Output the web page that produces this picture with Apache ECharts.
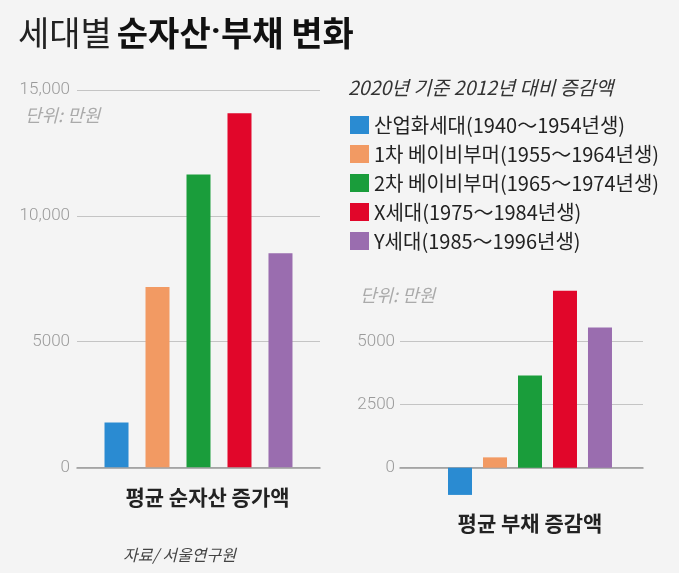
<!DOCTYPE html>
<html>
<head>
<meta charset="utf-8">
<script src="https://cdn.jsdelivr.net/npm/echarts@6/dist/echarts.min.js"></script>
<style>
html,body{margin:0;padding:0;background:#f4f4f4;}
#chart{width:679px;height:573px;}
</style>
</head>
<body>
<div id="chart"></div>
<script>
// ---- data ----
const generations = [
  '산업화세대(1940～1954년생)',
  '1차 베이비부머(1955～1964년생)',
  '2차 베이비부머(1965～1974년생)',
  'X세대(1975～1984년생)',
  'Y세대(1985～1996년생)'
];
const netAssetIncrease = [1780, 7170, 11640, 14080, 8510];
const debtChange = [-1080, 410, 3660, 7020, 5560];
const leftCategory = ['평균 순자산 증가액'];
const rightCategory = ['평균 부채 증감액'];
const leftTicks = [0, 5000, 10000, 15000];
const leftTickLabels = ['0', '5000', '10,000', '15,000'];
const rightTicks = [0, 2500, 5000];
const rightTickLabels = ['0', '2500', '5000'];
const colors = ['#2a8bd2', '#f29a63', '#1a9d3b', '#e1062a', '#9a6daf'];

const KR = '"Noto Sans CJK KR", "Noto Sans", sans-serif';
const NUM = 'Roboto, "Noto Sans", sans-serif';

function tickFmt(ticks, labels) {
  return function (v) {
    const i = ticks.indexOf(v);
    return i >= 0 ? labels[i] : '';
  };
}

const series = [];
generations.forEach(function (g, i) {
  series.push({
    type: 'bar', name: g, xAxisIndex: 0, yAxisIndex: 0,
    data: [netAssetIncrease[i]], barWidth: 24, barGap: '70.8%',
    itemStyle: { color: colors[i] }, silent: true
  });
});
generations.forEach(function (g, i) {
  series.push({
    type: 'bar', name: g, xAxisIndex: 2, yAxisIndex: 2,
    data: [debtChange[i]], barWidth: 24, barGap: '45.8%',
    itemStyle: { color: colors[i] }, silent: true
  });
});

const chart = echarts.init(document.getElementById('chart'), null, { renderer: 'canvas' });
chart.setOption({
  backgroundColor: '#f4f4f4',
  animation: false,
  title: [
    { text: '{a|세대별} {b|순자산}{d|·}{b|부채 변화}', left: 18, top: 16, padding: 0,
      textStyle: { rich: {
        a: { fontFamily: KR, fontSize: 34, fontWeight: 'normal', color: '#222' },
        b: { fontFamily: KR, fontSize: 34, fontWeight: 'bold', color: '#111' },
        d: { fontFamily: NUM, fontSize: 34, fontWeight: 'bold', color: '#111' }
      } } },
    { text: '2020년 기준 2012년 대비 증감액', left: 348, top: 78, padding: 0,
      textStyle: { fontFamily: KR, fontSize: 19.5, fontStyle: 'italic', fontWeight: 'normal', color: '#333' } },
    { text: '단위: 만원', left: 25, top: 106, padding: 0,
      textStyle: { fontFamily: KR, fontSize: 18, fontStyle: 'italic', fontWeight: 'normal', color: '#aaa' } },
    { text: '단위: 만원', left: 360, top: 286, padding: 0,
      textStyle: { fontFamily: KR, fontSize: 18, fontStyle: 'italic', fontWeight: 'normal', color: '#aaa' } },
    { text: '자료/ 서울연구원', left: 123, top: 547, padding: 0,
      textStyle: { fontFamily: KR, fontSize: 16, fontStyle: 'italic', fontWeight: 'normal', color: '#444' } }
  ],
  legend: {
    data: generations, orient: 'vertical', left: 350, top: 115, padding: 0,
    icon: 'rect', itemWidth: 19, itemHeight: 18, itemGap: 9, selectedMode: false,
    textStyle: { fontFamily: KR, fontSize: 20, color: '#222', padding: [0, 0, 0, 0] }
  },
  grid: [
    { left: 77, top: 90, width: 243, height: 377.3 },
    { left: 400, top: 341.7, width: 243, height: 126 },
    { left: 442.5, top: 278.7, width: 175, height: 220.5 }
  ],
  xAxis: [
    { type: 'category', gridIndex: 0, data: leftCategory,
      axisLine: { show: true, onZero: false, lineStyle: { color: '#999', width: 1.5 } },
      axisTick: { show: false },
      axisLabel: { margin: 19, padding: [0, 0, 0, 18], fontFamily: KR, fontSize: 21, fontWeight: 'bold', color: '#222' } },
    { type: 'category', gridIndex: 1, data: [''],
      axisLine: { show: true, onZero: false, lineStyle: { color: '#999', width: 1.5 } },
      axisTick: { show: false }, axisLabel: { show: false } },
    { type: 'category', gridIndex: 2, data: rightCategory,
      axisLine: { show: false, onZero: false }, axisTick: { show: false },
      axisLabel: { margin: 13, fontFamily: KR, fontSize: 21, fontWeight: 'bold', color: '#222' } }
  ],
  yAxis: [
    { type: 'value', gridIndex: 0, min: 0, max: 15000, interval: 5000,
      axisLine: { show: false }, axisTick: { show: false },
      splitLine: { lineStyle: { color: '#c4c4c4', width: 1.2 } },
      axisLabel: { margin: 7, fontFamily: NUM, fontSize: 17, fontWeight: 300, color: '#9a9a9a',
        formatter: tickFmt(leftTicks, leftTickLabels) } },
    { type: 'value', gridIndex: 1, min: 0, max: 5000, interval: 2500,
      axisLine: { show: false }, axisTick: { show: false },
      splitLine: { lineStyle: { color: '#c4c4c4', width: 1.2 } },
      axisLabel: { margin: 5, fontFamily: NUM, fontSize: 17, fontWeight: 300, color: '#9a9a9a',
        formatter: tickFmt(rightTicks, rightTickLabels) } },
    { type: 'value', gridIndex: 2, min: -1250, max: 7500, show: false,
      splitLine: { show: false } }
  ],
  series: series
});
</script>
</body>
</html>
